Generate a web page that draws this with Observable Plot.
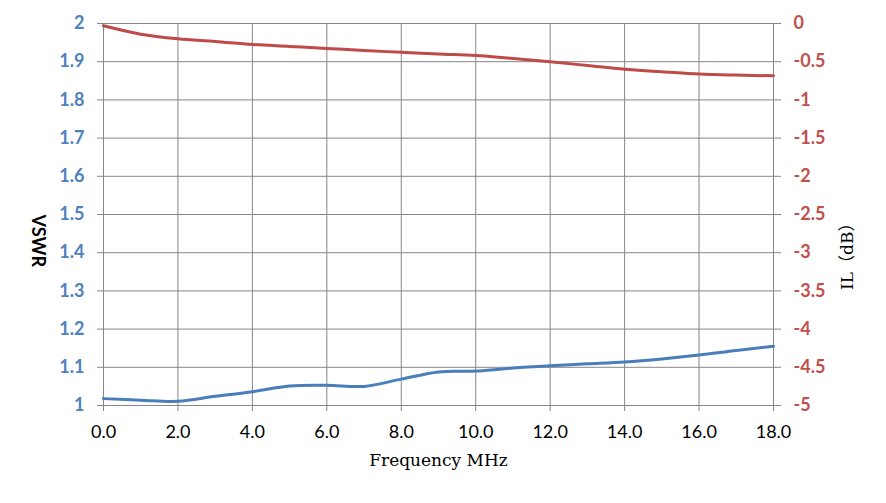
<!DOCTYPE html>
<html>
<head>
<meta charset="utf-8">
<script src="https://cdn.jsdelivr.net/npm/d3@7"></script>
<script src="https://cdn.jsdelivr.net/npm/@observablehq/plot@0.6"></script>
<style>
  html, body { margin: 0; padding: 0; background: #fff; }
  #chart svg { display: block; }
</style>
</head>
<body>
<div id="chart"></div>
<script>
// Frequency (MHz)
const freq = [0, 1, 2, 3, 4, 5, 6, 7, 8, 9, 10, 11, 12, 13, 14, 15, 16, 17, 18];
// VSWR (left axis)
const vswr = [1.018, 1.014, 1.011, 1.024, 1.036, 1.051, 1.053, 1.050, 1.069, 1.088, 1.090, 1.098, 1.104, 1.109, 1.114, 1.122, 1.132, 1.144, 1.155];
// Insertion loss in dB (right axis)
const il = [-0.03, -0.14, -0.20, -0.235, -0.275, -0.30, -0.326, -0.353, -0.377, -0.40, -0.42, -0.458, -0.50, -0.55, -0.60, -0.63, -0.66, -0.675, -0.685];

// tick labels
const freqTicks = [0, 2, 4, 6, 8, 10, 12, 14, 16, 18];
const vswrTicks = [1, 1.1, 1.2, 1.3, 1.4, 1.5, 1.6, 1.7, 1.8, 1.9, 2];
const ilTicks = [-5, -4.5, -4, -3.5, -3, -2.5, -2, -1.5, -1, -0.5, 0];

// secondary axis mapping: IL [-5, 0] onto VSWR [1, 2]
const ilToY = v => 2 + v / 5;
const yToIl = y => Math.round((y - 2) * 50) / 10;

const rows = freq.map((f, i) => ({f, vswr: vswr[i], il: il[i]}));

const grid = "#868686";
const blueText = "#4F81BD", redText = "#C0504D";
const blueLine = "#4A7EBB", redLine = "#BE4B48";

const chart = Plot.plot({
  width: 886,
  height: 503,
  marginLeft: 103,
  marginRight: 113,
  marginTop: 23,
  marginBottom: 98,
  style: {fontFamily: "Lato, 'Open Sans', sans-serif", background: "#fff", overflow: "visible"},
  x: {domain: [0, 18]},
  y: {domain: [1, 2]},
  marks: [
    Plot.gridY(vswrTicks, {stroke: grid, strokeOpacity: 1, strokeWidth: 1}),
    Plot.gridX(freqTicks, {stroke: grid, strokeOpacity: 1, strokeWidth: 1}),
    // tick marks (gray)
    Plot.axisY(vswrTicks, {anchor: "left", tickSize: 6, tickFormat: () => "", stroke: grid, label: null}),
    Plot.axisY(ilTicks.map(ilToY), {anchor: "right", tickSize: 7, tickFormat: () => "", stroke: grid, label: null}),
    Plot.axisX(freqTicks, {anchor: "bottom", tickSize: 6, tickFormat: () => "", stroke: grid, label: null}),
    // tick labels
    Plot.axisY(vswrTicks, {anchor: "left", tickSize: 0, tickPadding: 19, tickFormat: d => String(+d.toFixed(1)),
      fill: blueText, fontSize: 18, fontWeight: "bold", label: null}),
    Plot.axisY(ilTicks.map(ilToY), {anchor: "right", tickSize: 0, tickPadding: 20, tickFormat: d => String(yToIl(d)),
      fill: redText, fontSize: 18, fontWeight: "bold", label: null}),
    Plot.axisX(freqTicks, {anchor: "bottom", tickSize: 0, tickPadding: 20, tickFormat: d => d.toFixed(1),
      fill: "#000", fontSize: 18, label: null}),
    // series
    Plot.line(rows, {x: "f", y: d => ilToY(d.il), stroke: redLine, strokeWidth: 3, curve: "catmull-rom"}),
    Plot.line(rows, {x: "f", y: "vswr", stroke: blueLine, strokeWidth: 3, curve: "catmull-rom"}),
    // axis titles
    Plot.text(["VSWR"], {frameAnchor: "left", dx: -66, rotate: 90, fontSize: 18, fontWeight: "bold", fill: "#000",
      fontFamily: "Lato, sans-serif"}),
    Plot.text(["IL（dB）"], {frameAnchor: "right", dx: 74, rotate: -90, fontSize: 17, fill: "#000",
      fontFamily: "'DejaVu Serif', 'Noto Sans CJK SC', serif"}),
    Plot.text(["Frequency MHz"], {frameAnchor: "bottom", dy: 60, fontSize: 17, fill: "#000",
      fontFamily: "'DejaVu Serif', serif"})
  ]
});
document.getElementById("chart").appendChild(chart);
</script>
</body>
</html>
